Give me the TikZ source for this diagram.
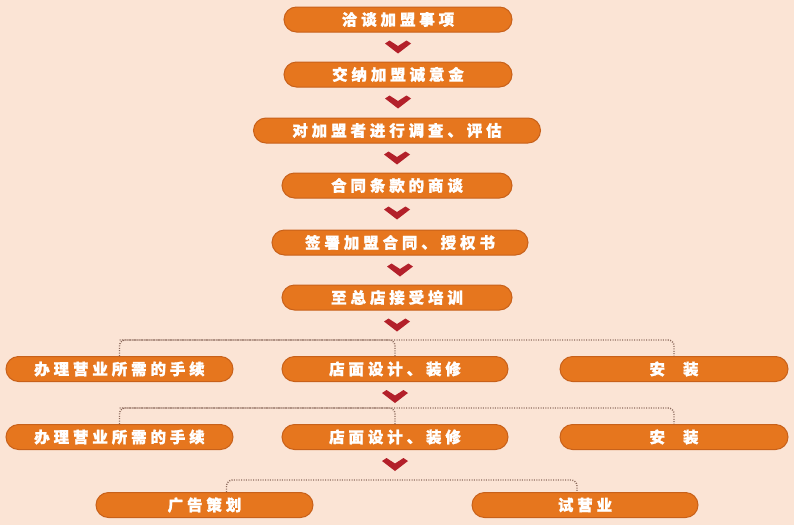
\documentclass[tikz,border=0pt]{standalone}
\usepackage{fontspec}
\newfontfamily\cjk[LetterSpace=25, FakeBold=1.2]{Noto Sans CJK SC}
\usetikzlibrary{calc}
\definecolor{bgpeach}{HTML}{FBE4D5}
\definecolor{boxorange}{HTML}{E6761E}
\definecolor{boxedge}{HTML}{C8611A}
\definecolor{chevred}{HTML}{B3202A}
\definecolor{dotgray}{HTML}{8C6A5C}
\begin{document}
\begin{tikzpicture}[x = 1pt, y = -1pt,
    stepbox/.style = {draw = boxedge, line width = 1pt, fill = boxorange, rounded corners = 12.5pt,
        minimum height = 25pt, inner sep = 0pt, text = white, font = \cjk\bfseries\fontsize{15.5}{15.5}\selectfont},
    chev/.style = {fill = chevred},
    dotline/.style = {draw = dotgray, line width = 1.4pt, dash pattern = on 1pt off 1.4pt, rounded corners = 6pt}]
    \fill [bgpeach] (0, 0) rectangle (794, 525);
    \useasboundingbox (0, 0) rectangle (794, 525);

    % main column
    \node [stepbox, minimum width = 228pt] (box1) at (398, 19.5) {洽谈加盟事项};
    \node [stepbox, minimum width = 228pt] (box2) at (398, 74.5) {交纳加盟诚意金};
    \node [stepbox, minimum width = 287pt] (box3) at (397, 130.5) {对加盟者进行调查、评估};
    \node [stepbox, minimum width = 230pt] (box4) at (397, 185.5) {合同条款的商谈};
    \node [stepbox, minimum width = 256pt] (box5) at (400, 242.5) {签署加盟合同、授权书};
    \node [stepbox, minimum width = 230pt] (box6) at (397, 297.5) {至总店接受培训};

    % two rows of three
    \node [stepbox, minimum width = 227pt] (left7) at (119.5, 369) {办理营业所需的手续};
    \node [stepbox, minimum width = 226pt] (mid7) at (395, 369) {店面设计、装修};
    \node [stepbox, minimum width = 228pt] (right7) at (674, 369) {安\hspace{18pt}装};
    \node [stepbox, minimum width = 227pt] (left8) at (119.5, 437) {办理营业所需的手续};
    \node [stepbox, minimum width = 226pt] (mid8) at (395, 437) {店面设计、装修};
    \node [stepbox, minimum width = 228pt] (right8) at (674, 437) {安\hspace{18pt}装};

    % last row
    \node [stepbox, minimum width = 217pt] (advert) at (204.5, 505) {广告策划};
    \node [stepbox, minimum width = 226pt] (trial) at (585, 505) {试营业};

    % chevrons
    \foreach \n in {box1, box2, box3, box4, box5, box6, mid7, mid8}
        \fill [chev, shift = {($(\n.south) + (0, 15)$)}] (-13, -4) -- (-8.5, -7) -- (0, -1.5) -- (8.5, -7) -- (13, -4) -- (0, 6) -- cycle;

    % dotted branches
    \draw [dotline] (left7.north) -- ++(0, -16) -| (right7.north);
    \draw [dotline] ($(left7.north) + (0, -16)$) -| (mid7.north);
    \draw [dotline] (left8.north) -- ++(0, -16) -| (right8.north);
    \draw [dotline] ($(left8.north) + (0, -16)$) -| (mid8.north);
    \draw [dotline] ([xshift = 22pt]advert.north) -- ++(0, -12) -| ([xshift = -8pt]trial.north);
\end{tikzpicture}
\end{document}
